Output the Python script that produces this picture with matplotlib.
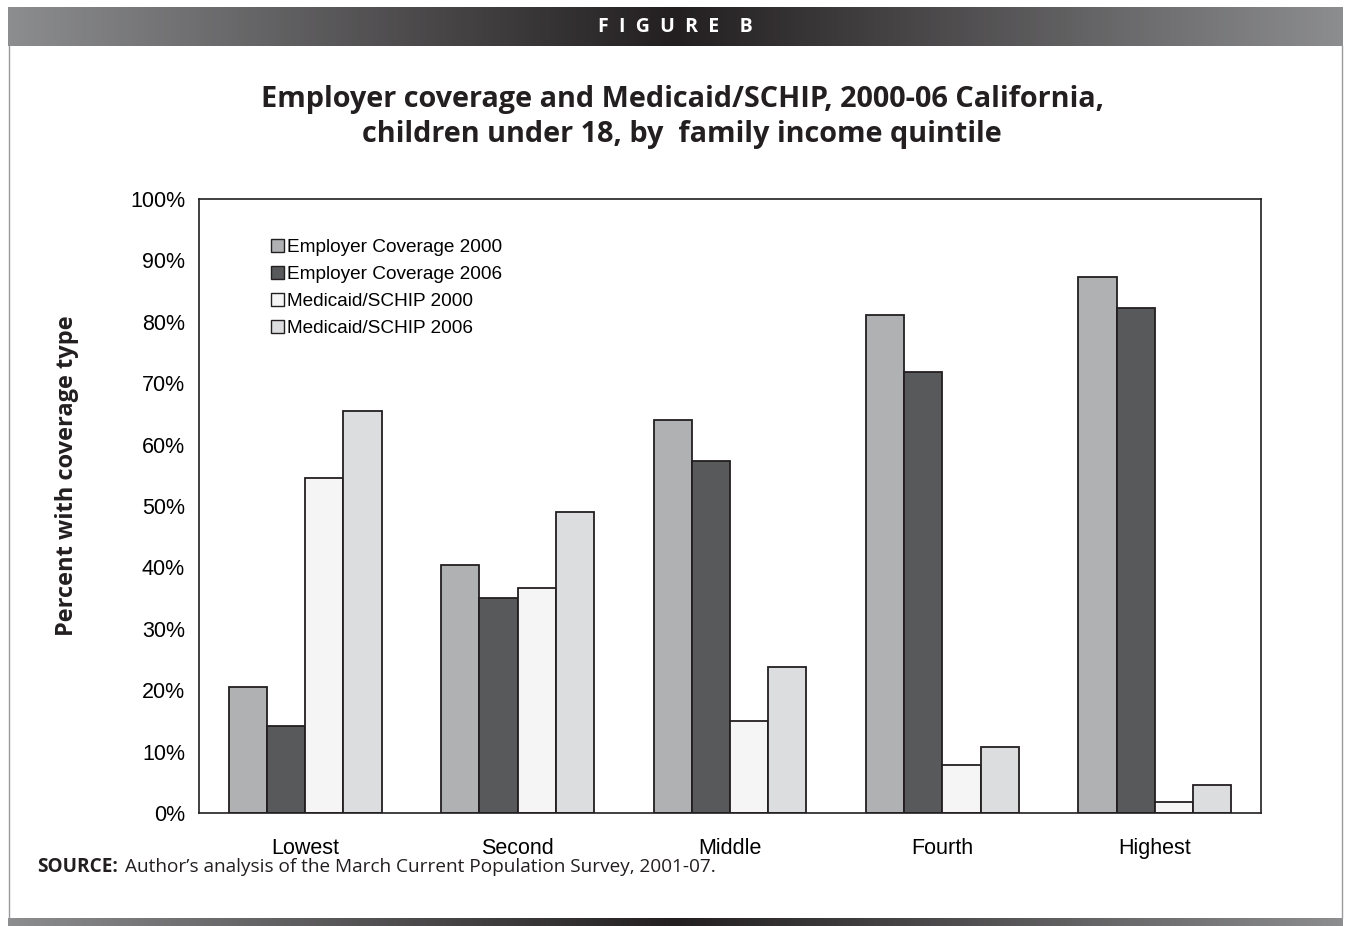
import numpy as np
import matplotlib.pyplot as plt
from matplotlib.colors import LinearSegmentedColormap

# data
quintiles = ["Lowest", "Second", "Middle", "Fourth", "Highest"]
series_names = ["Employer Coverage 2000", "Employer Coverage 2006",
                "Medicaid/SCHIP 2000", "Medicaid/SCHIP 2006"]
emp_2000 = [20.5, 40.4, 64.0, 81.1, 87.3]
emp_2006 = [14.2, 35.0, 57.3, 71.8, 82.2]
med_2000 = [54.6, 36.6, 15.0, 7.8, 1.8]
med_2006 = [65.5, 49.0, 23.8, 10.7, 4.6]
yticks = [0, 10, 20, 30, 40, 50, 60, 70, 80, 90, 100]

colors = ["#b0b1b3", "#58595b", "#f4f5f4", "#dcdddf"]

W, H = 1351, 926
fig = plt.figure(figsize=(W / 100, H / 100), dpi=100)
fig.patch.set_facecolor("white")

# header and footer gradient bars
grad = LinearSegmentedColormap.from_list("g", ["#8c8d8f", "#231f20", "#8c8d8f"])
xg = np.linspace(0, 1, 512).reshape(1, -1)
hdr = fig.add_axes([8 / W, 1 - 46 / H, 1335 / W, 39 / H])
hdr.imshow(xg, aspect="auto", cmap=grad, extent=[0, 1, 0, 1])
hdr.axis("off")
hdr.text(0.5, 0.48, "F  I  G  U  R  E    B", color="white", fontsize=14, fontweight="bold",
         family="Open Sans", ha="center", va="center")
ftr = fig.add_axes([8 / W, 0, 1335 / W, 8 / H])
ftr.imshow(xg, aspect="auto", cmap=grad, extent=[0, 1, 0, 1])
ftr.axis("off")

# thin side borders
fig.add_artist(plt.Line2D([9 / W, 9 / W], [8 / H, 1 - 46 / H], color="#9a9a9c", lw=1))
fig.add_artist(plt.Line2D([1342 / W, 1342 / W], [8 / H, 1 - 46 / H], color="#9a9a9c", lw=1))

# titles
fig.text(0.505, 1 - 117 / H,
         "Employer coverage and Medicaid/SCHIP, 2000-06 California,\nchildren under 18, by  family income quintile",
         ha="center", va="center", fontsize=20.8, fontweight="bold", family="Open Sans",
         color="#231f20", linespacing=1.3)

ax = fig.add_axes([199 / W, 1 - 813 / H, (1261 - 199) / W, (813 - 199) / H])
x = np.arange(len(quintiles))
bw = 0.18
all_series = [emp_2000, emp_2006, med_2000, med_2006]
for i, (vals, name, c) in enumerate(zip(all_series, series_names, colors)):
    ax.bar(x + (i - 1.5) * bw, vals, bw, color=c, edgecolor="#231f20", linewidth=1.3, label=name)

ax.set_xlim(-0.5, len(quintiles) - 0.5)
ax.set_ylim(0, 100)
ax.set_yticks(yticks)
ax.set_yticklabels([f"{t}%" for t in yticks], family="Liberation Sans", fontsize=15.5)
ax.set_xticks(x)
ax.set_xticklabels(quintiles, family="Liberation Sans", fontsize=15.5)
ax.tick_params(axis="y", length=0, pad=10)
ax.tick_params(axis="x", length=0, pad=18)
for s in ax.spines.values():
    s.set_color("#231f20")
    s.set_linewidth(1.2)
ax.set_ylabel("Percent with coverage type", family="Open Sans", fontweight="bold",
              fontsize=17, color="#231f20", va="center")
ax.yaxis.set_label_coords(-0.124, 0.549)

leg = ax.legend(loc="upper left", bbox_to_anchor=(0.0605, 0.947), frameon=False,
                prop={"family": "Liberation Sans", "size": 13.7},
                handlelength=0.7, handleheight=0.7, handletextpad=0.15,
                labelspacing=0.5, borderaxespad=0)
for h in leg.legend_handles:
    h.set_linewidth(1.0)

# source note
fig.text(37 / W, 1 - 867 / H, "SOURCE:", fontweight="bold", family="Open Sans",
         fontsize=13.7, va="center", color="#231f20")
fig.text(125 / W, 1 - 867 / H, "Author\u2019s analysis of the March Current Population Survey, 2001-07.",
         family="Open Sans", fontsize=13.7, va="center", color="#231f20")

fig.savefig("out.png", dpi=100)
